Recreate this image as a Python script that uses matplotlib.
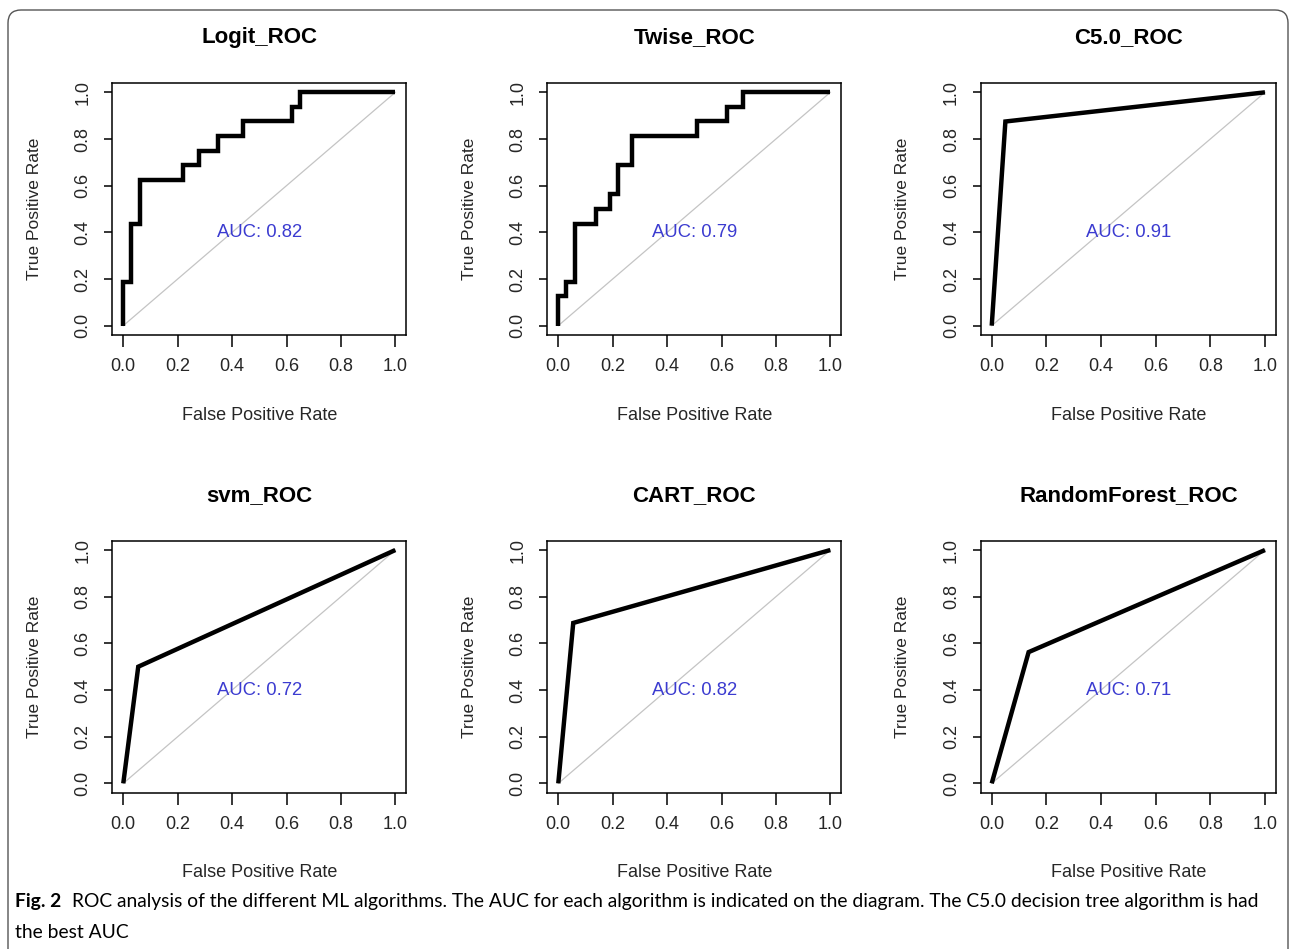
"""
ROC curves of six classifiers in a 2x3 grid, with figure caption underneath.
"""

import matplotlib
matplotlib.use("Agg")
import matplotlib.pyplot as plt
from matplotlib.patches import FancyBboxPatch

FIG_W, FIG_H = 1290, 949

# ROC vertices (false positive rate, true positive rate) for each model
logit_fpr = [0, 0, 0.03, 0.03, 0.06, 0.06, 0.22, 0.22, 0.28, 0.28, 0.35, 0.35,
             0.44, 0.44, 0.62, 0.62, 0.65, 0.65, 1.0]
logit_tpr = [0, 0.1875, 0.1875, 0.4375, 0.4375, 0.625, 0.625, 0.6875, 0.6875,
             0.75, 0.75, 0.8125, 0.8125, 0.875, 0.875, 0.9375, 0.9375, 1.0, 1.0]

twise_fpr = [0, 0, 0.03, 0.03, 0.06, 0.06, 0.14, 0.14, 0.19, 0.19, 0.22, 0.22,
             0.27, 0.27, 0.51, 0.51, 0.62, 0.62, 0.68, 0.68, 1.0]
twise_tpr = [0, 0.125, 0.125, 0.1875, 0.1875, 0.4375, 0.4375, 0.5, 0.5, 0.5625,
             0.5625, 0.6875, 0.6875, 0.8125, 0.8125, 0.875, 0.875, 0.9375,
             0.9375, 1.0, 1.0]

c50_fpr = [0, 0.05, 1.0]
c50_tpr = [0, 0.875, 1.0]

svm_fpr = [0, 0.055, 1.0]
svm_tpr = [0, 0.5, 1.0]

cart_fpr = [0, 0.055, 1.0]
cart_tpr = [0, 0.6875, 1.0]

rf_fpr = [0, 0.135, 1.0]
rf_tpr = [0, 0.5625, 1.0]

titles = ["Logit_ROC", "Twise_ROC", "C5.0_ROC", "svm_ROC", "CART_ROC", "RandomForest_ROC"]
auc_values = [0.82, 0.79, 0.91, 0.72, 0.82, 0.71]
curves = [(logit_fpr, logit_tpr), (twise_fpr, twise_tpr), (c50_fpr, c50_tpr),
          (svm_fpr, svm_tpr), (cart_fpr, cart_tpr), (rf_fpr, rf_tpr)]
tick_values = [0.0, 0.2, 0.4, 0.6, 0.8, 1.0]

caption_bold = "Fig. 2"
caption_line1 = ("ROC analysis of the different ML algorithms. The AUC for each algorithm "
                 "is indicated on the diagram. The C5.0 decision tree algorithm is had")
caption_line2 = "the best AUC"

# panel boxes in pixels: (left, top, right, bottom)
col_x = [(112.4, 406.2), (547.4, 841.2), (980.8, 1275.9)]
row_y = [(83.0, 335.0), (540.7, 792.7)]

TEXT = "#262626"


def fx(px):
    return px / FIG_W


def fy(py):
    return 1 - py / FIG_H


fig = plt.figure(figsize=(FIG_W / 100, FIG_H / 100), dpi=100)
plt.rcParams["font.family"] = ["Liberation Sans", "DejaVu Sans"]

for i, (title, auc, (fpr, tpr)) in enumerate(zip(titles, auc_values, curves)):
    left, right = col_x[i % 3]
    top, bottom = row_y[i // 3]
    ax = fig.add_axes([fx(left), fy(bottom), fx(right - left), (bottom - top) / FIG_H])
    ax.plot([0, 1], [0, 1], color="#c4c4c4", lw=0.9)
    ax.plot(fpr, tpr, color="black", lw=3.2, solid_joinstyle="miter", solid_capstyle="butt")
    ax.text(0.5, 0.4, f"AUC: {auc:.2f}", color="#3b3bd0", fontsize=13.3,
            ha="center", va="center")
    ax.set_xlim(-0.04, 1.04)
    ax.set_ylim(-0.04, 1.04)
    ax.set_xticks(tick_values)
    ax.set_yticks(tick_values)
    ax.set_xticklabels([f"{v:.1f}" for v in tick_values])
    ax.set_yticklabels([f"{v:.1f}" for v in tick_values], rotation=90, va="center")
    ax.tick_params(axis="x", length=8.5, width=1.1, pad=8, labelsize=13, labelcolor=TEXT)
    ax.tick_params(axis="y", length=6, width=1.1, pad=9, labelsize=13, labelcolor=TEXT)
    for spine in ax.spines.values():
        spine.set_linewidth(1.1)
    # titles and axis labels placed like base R graphics
    cx = (left + right) / 2
    fig.text(fx(cx), fy(top - 45), title, ha="center", va="center",
             fontsize=16, fontweight="bold", color="black")
    fig.text(fx(cx), fy(bottom + 80), "False Positive Rate", ha="center", va="center",
             fontsize=13, color=TEXT)
    fig.text(fx(left - 78), fy((top + bottom) / 2), "True Positive Rate", ha="center",
             va="center", rotation=90, fontsize=12.5, color=TEXT)

# caption below the panels
cap_font = ["Lato", "DejaVu Sans"]
fig.canvas.draw()
renderer = fig.canvas.get_renderer()
bold = fig.text(fx(15), fy(907), caption_bold, fontsize=14.5, fontweight="bold",
                family=cap_font, va="baseline", ha="left")
bold_w = bold.get_window_extent(renderer).width
line1 = fig.text(fx(15 + bold_w + 9), fy(907), caption_line1, fontsize=14.5,
                 family=cap_font, va="baseline", ha="left")
# squeeze the caption line to its column width
w1 = line1.get_window_extent(renderer).width
target = 1262 - (15 + bold_w + 9)
size = 14.5 * target / w1
line1.set_fontsize(size)
bold.set_fontsize(size)
fig.text(fx(15), fy(938), caption_line2, fontsize=size, family=cap_font,
         va="baseline", ha="left")

# rounded frame around the figure, open at the bottom
frame = FancyBboxPatch((0.08, -0.5), 12.8, 9.39 + 0.5,
                       boxstyle="round,pad=0,rounding_size=0.13",
                       transform=fig.dpi_scale_trans, fill=False,
                       edgecolor="#555555", lw=1.0)
fig.patches.append(frame)

fig.savefig("out.png", dpi=100)
